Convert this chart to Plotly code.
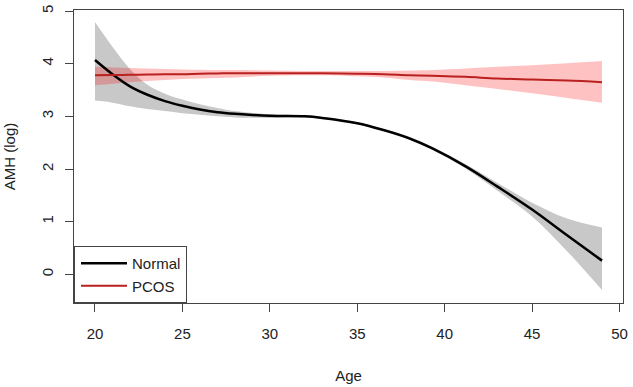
import plotly.graph_objects as go

ages = [20, 21, 22, 23, 24, 25, 26, 27, 28, 30, 32, 33, 35, 36.5, 38, 39.3, 41.2, 43, 45, 47, 49]

normal_fit = [4.07, 3.80, 3.57, 3.41, 3.29, 3.20, 3.13, 3.08, 3.05, 3.01, 3.00, 2.97, 2.87, 2.74, 2.58, 2.39, 2.05, 1.67, 1.23, 0.74, 0.26]
normal_upper = [4.79, 4.32, 3.90, 3.60, 3.43, 3.32, 3.23, 3.16, 3.10, 3.04, 3.02, 2.99, 2.89, 2.76, 2.60, 2.42, 2.09, 1.74, 1.36, 1.06, 0.89]
normal_lower = [3.30, 3.26, 3.19, 3.14, 3.10, 3.06, 3.03, 3.00, 2.98, 2.97, 2.98, 2.95, 2.85, 2.72, 2.56, 2.36, 2.01, 1.59, 1.10, 0.44, -0.30]

pcos_fit = [3.78, 3.785, 3.79, 3.795, 3.80, 3.80, 3.81, 3.815, 3.82, 3.82, 3.82, 3.82, 3.81, 3.80, 3.78, 3.77, 3.75, 3.72, 3.70, 3.68, 3.65]
pcos_upper = [3.94, 3.93, 3.92, 3.91, 3.90, 3.89, 3.885, 3.88, 3.88, 3.87, 3.86, 3.86, 3.86, 3.86, 3.87, 3.88, 3.91, 3.94, 3.97, 4.01, 4.05]
pcos_lower = [3.59, 3.62, 3.65, 3.67, 3.69, 3.71, 3.72, 3.73, 3.74, 3.77, 3.78, 3.78, 3.76, 3.74, 3.69, 3.66, 3.59, 3.52, 3.44, 3.35, 3.26]

x_ticks = [20, 25, 30, 35, 40, 45, 50]
y_ticks = [0, 1, 2, 3, 4, 5]

FONT = "Liberation Sans, Arial, sans-serif"
AXC = "#444444"

fig = go.Figure()

# Normal CI band
fig.add_trace(go.Scatter(x=ages, y=normal_lower, mode="lines",
                         line=dict(width=0, shape="spline"), showlegend=False, hoverinfo="skip"))
fig.add_trace(go.Scatter(x=ages, y=normal_upper, mode="lines", fill="tonexty",
                         fillcolor="#C8C8C8", line=dict(width=0, shape="spline"),
                         showlegend=False, hoverinfo="skip"))
# PCOS CI band
fig.add_trace(go.Scatter(x=ages, y=pcos_lower, mode="lines",
                         line=dict(width=0, shape="spline"), showlegend=False, hoverinfo="skip"))
fig.add_trace(go.Scatter(x=ages, y=pcos_upper, mode="lines", fill="tonexty",
                         fillcolor="rgba(255,0,0,0.24)", line=dict(width=0, shape="spline"),
                         showlegend=False, hoverinfo="skip"))
# Fitted lines
fig.add_trace(go.Scatter(x=ages, y=normal_fit, mode="lines", name="Normal",
                         line=dict(color="black", width=2.5, shape="spline")))
fig.add_trace(go.Scatter(x=ages, y=pcos_fit, mode="lines", name="PCOS",
                         line=dict(color="#B8211F", width=2, shape="spline")))

fig.update_layout(
    width=633, height=387,
    margin=dict(l=74, r=8, t=5, b=79),
    plot_bgcolor="white", paper_bgcolor="white",
    font=dict(family=FONT, size=15, color="#222222"),
    showlegend=True,
    legend=dict(x=0, y=0, xanchor="left", yanchor="bottom", traceorder="normal",
                bordercolor=AXC, borderwidth=1, bgcolor="white",
                font=dict(size=15, family=FONT, color="#222222"),
                tracegroupgap=0, itemwidth=46, indentation=1),
    xaxis=dict(range=[18.8, 50.2], tickvals=x_ticks, ticktext=[str(v) for v in x_ticks],
               showgrid=False, zeroline=False, showline=True, mirror=True,
               linecolor=AXC, linewidth=1, ticks="outside", ticklen=8, tickcolor=AXC,
               ticklabelstandoff=9,
               title=dict(text="Age", standoff=29, font=dict(size=15))),
    yaxis=dict(range=[-0.545, 5.02], tickvals=y_ticks, ticktext=[str(v) for v in y_ticks],
               showgrid=False, zeroline=False, showline=True, mirror=True,
               linecolor=AXC, linewidth=1, ticks="outside", ticklen=8, tickcolor=AXC,
               tickangle=-90, ticklabelstandoff=6,
               title=dict(text="AMH (log)", standoff=19, font=dict(size=15))),
)

fig.write_html("out.html")
